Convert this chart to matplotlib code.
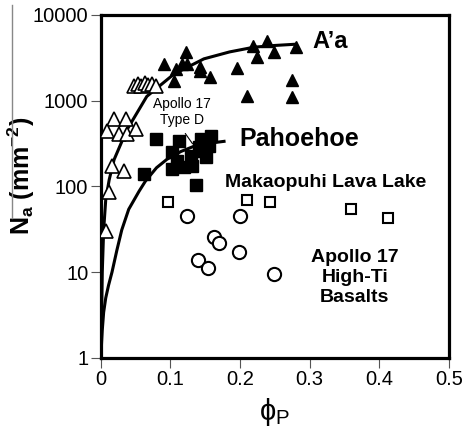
import matplotlib
matplotlib.use('Agg')
import matplotlib.pyplot as plt
from matplotlib.lines import Line2D

plt.rcParams['font.family'] = ['Liberation Sans', 'DejaVu Sans']
plt.rcParams['mathtext.default'] = 'regular'

# A'a (filled triangles)
aa_x = [0.091, 0.117, 0.124, 0.123, 0.108, 0.105, 0.143, 0.143, 0.157, 0.195,
        0.210, 0.218, 0.225, 0.239, 0.249, 0.281, 0.275, 0.275]
aa_y = [2680, 2680, 2680, 3700, 2340, 1700, 2480, 2210, 1870, 2400,
        1120, 4330, 3220, 4980, 3700, 4230, 1750, 1100]

# open triangles
ot_x = [0.019, 0.036, 0.009, 0.026, 0.037, 0.050, 0.016, 0.033, 0.012, 0.007,
        0.047, 0.053, 0.058, 0.063, 0.068, 0.073, 0.079]
ot_y = [605, 605, 440, 405, 405, 465, 172, 150, 86, 30,
        1500, 1550, 1480, 1600, 1520, 1560, 1500]

# Pahoehoe (filled squares)
ph_x = [0.079, 0.062, 0.137, 0.112, 0.102, 0.110, 0.102, 0.120, 0.130, 0.131,
        0.144, 0.158, 0.146, 0.151, 0.156, 0.141]
ph_y = [355, 138, 104, 335, 250, 196, 158, 166, 224, 171,
        355, 385, 257, 218, 294, 285]

# Makaopuhi Lava Lake (open squares)
mk_x = [0.097, 0.210, 0.243, 0.359, 0.412]
mk_y = [66, 70, 65, 54, 43]

# Apollo 17 high-Ti basalts (open circles)
ap_x = [0.124, 0.200, 0.163, 0.170, 0.199, 0.140, 0.154, 0.249]
ap_y = [44.7, 44.7, 26, 22, 17, 14, 11.3, 9.6]

# fitted curves
aa_curve_x = [0.0, 0.001, 0.002, 0.004, 0.007, 0.012, 0.019, 0.037, 0.066, 0.105, 0.148, 0.185, 0.22, 0.25, 0.28]
aa_curve_y = [1, 3, 10, 31, 70, 120, 205, 450, 1120, 2040, 3070, 3700, 4200, 4400, 4550]
ph_curve_x = [0.0, 0.001, 0.002, 0.004, 0.007, 0.011, 0.016, 0.023, 0.030, 0.040, 0.055, 0.064, 0.080, 0.095, 0.115, 0.134, 0.155, 0.177]
ph_curve_y = [1, 1.5, 2.1, 3.4, 5, 7, 10, 18, 31, 54, 88, 115, 165, 207, 255, 294, 318, 335]

fig = plt.figure(figsize=(4.67, 4.38), dpi=100)
ax = fig.add_axes([0.216, 0.183, 0.745, 0.783])

ax.plot(aa_curve_x, aa_curve_y, color='black', lw=2.2, zorder=2)
ax.plot(ph_curve_x, ph_curve_y, color='black', lw=2.2, zorder=2)

ax.plot(aa_x, aa_y, '^', color='black', ms=8.5, ls='none', zorder=3)
ax.plot(ot_x, ot_y, '^', mfc='white', mec='black', mew=1.2, ms=10, ls='none', zorder=3)
ax.plot(ph_x, ph_y, 's', color='black', ms=8, ls='none', zorder=3)
ax.plot(mk_x, mk_y, 's', mfc='white', mec='black', mew=1.5, ms=7, ls='none', zorder=3)
ax.plot(ap_x, ap_y, 'o', mfc='white', mec='black', mew=1.5, ms=9.5, ls='none', zorder=3)

ax.set_yscale('log')
ax.set_xlim(0, 0.5)
ax.set_ylim(1, 10000)
ax.set_xticks([0, 0.1, 0.2, 0.3, 0.4, 0.5])
ax.set_xticklabels(['0', '0.1', '0.2', '0.3', '0.4', '0.5'])
ax.set_yticks([1, 10, 100, 1000, 10000])
ax.set_yticklabels(['1', '10', '100', '1000', '10000'])
ax.minorticks_off()
ax.tick_params(labelsize=14.5, length=7, width=0.8, color='#555555', pad=2)

for s in ax.spines.values():
    s.set_linewidth(2.3)

ax.set_xlabel('ϕ$_P$', fontsize=21, labelpad=5)
ax.set_ylabel('N$_a$ (mm$^{-2}$)', fontsize=18, fontweight='bold')
ax.yaxis.set_label_coords(-0.185, 0.53)

ax.text(0.330, 4830, 'A’a', fontsize=17, fontweight='bold', ha='center', va='center')
ax.text(0.285, 355, 'Pahoehoe', fontsize=18, fontweight='bold', ha='center', va='center')
ax.text(0.323, 111, 'Makaopuhi Lava Lake', fontsize=14, fontweight='bold', ha='center', va='center')
ax.text(0.365, 8.6, 'Apollo 17\nHigh-Ti\nBasalts', fontsize=14, fontweight='bold',
        ha='center', va='center', linespacing=1.25)
ax.text(0.117, 733, 'Apollo 17\nType D', fontsize=10, ha='center', va='center', linespacing=1.15)
ax.annotate('', xy=(0.134, 296), xytext=(0.119, 440),
            arrowprops=dict(arrowstyle='-', color='black', lw=0.8))

# stray grey rule at the left edge of the original figure
fig.add_artist(Line2D([12 / 467, 12 / 467], [1 - 5 / 438, 1 - 218 / 438],
                      color='#888888', lw=1))

fig.savefig('out.png', dpi=100)
